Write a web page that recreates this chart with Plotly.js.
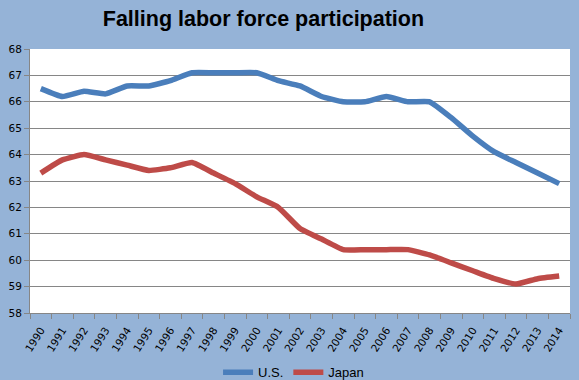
<!DOCTYPE html>
<html>
<head>
<meta charset="utf-8">
<script src="https://cdn.plot.ly/plotly-3.0.1.min.js"></script>
<style>html,body{margin:0;padding:0;background:#95B3D7;}#chart{width:579px;height:380px;}</style>
</head>
<body>
<div id="chart"></div>
<script>
const years = ["1990","1991","1992","1993","1994","1995","1996","1997","1998","1999","2000","2001","2002","2003","2004","2005","2006","2007","2008","2009","2010","2011","2012","2013","2014"];
const usValues = [66.5,66.2,66.4,66.3,66.6,66.6,66.8,67.1,67.1,67.1,67.1,66.8,66.6,66.2,66.0,66.0,66.2,66.0,66.0,65.4,64.7,64.1,63.7,63.3,62.9];
const japanValues = [63.3,63.8,64.0,63.8,63.6,63.4,63.5,63.7,63.3,62.9,62.4,62.0,61.2,60.8,60.4,60.4,60.4,60.4,60.2,59.9,59.6,59.3,59.1,59.3,59.4];
const yTicks = [58,59,60,61,62,63,64,65,66,67,68];

const traces = [
  {x: years, y: usValues, name: "U.S.", type: "scatter", mode: "lines",
   line: {color: "#4A7EBB", width: 5.5, shape: "spline", smoothing: 0.4}},
  {x: years, y: japanValues, name: "Japan", type: "scatter", mode: "lines",
   line: {color: "#BE4B48", width: 5.5, shape: "spline", smoothing: 0.4}}
];

const layout = {
  width: 579, height: 380,
  paper_bgcolor: "#95B3D7", plot_bgcolor: "#FFFFFF",
  margin: {l: 30, r: 9, t: 49, b: 67, autoexpand: false},
  title: {text: "<b>Falling labor force participation</b>", x: 0.455, xref: "container", xanchor: "center",
          y: 1, yref: "container", yanchor: "top", pad: {t: 11},
          font: {family: "Liberation Sans, Arial, sans-serif", size: 21.5, color: "#000000"}},
  xaxis: {type: "category", range: [-0.5, 24.5], tickson: "boundaries", ticks: "outside", ticklen: 5, tickcolor: "#868686",
          showgrid: false, showline: true, linecolor: "#868686", linewidth: 1,
          tickangle: -58, ticklabelstandoff: 6, automargin: false,
          tickfont: {family: "DejaVu Sans, Verdana, sans-serif", size: 10.5, color: "#000"},
          fixedrange: true},
  yaxis: {range: [58, 68], tickvals: yTicks, ticks: "outside", ticklen: 5, tickcolor: "#868686",
          showgrid: true, gridcolor: "#868686", gridwidth: 1, zeroline: false,
          showline: true, linecolor: "#868686", linewidth: 1, automargin: false,
          tickfont: {family: "DejaVu Sans, Verdana, sans-serif", size: 10.5, color: "#000"},
          fixedrange: true},
  showlegend: true,
  legend: {orientation: "h", x: 0.507, xanchor: "center", xref: "container", y: 0.02, yanchor: "middle", yref: "container",
           bgcolor: "rgba(0,0,0,0)", itemwidth: 30,
           font: {family: "Liberation Sans, Arial, sans-serif", size: 13, color: "#000"}}
};

Plotly.newPlot("chart", traces, layout, {displayModeBar: false, staticPlot: true});
</script>
</body>
</html>
